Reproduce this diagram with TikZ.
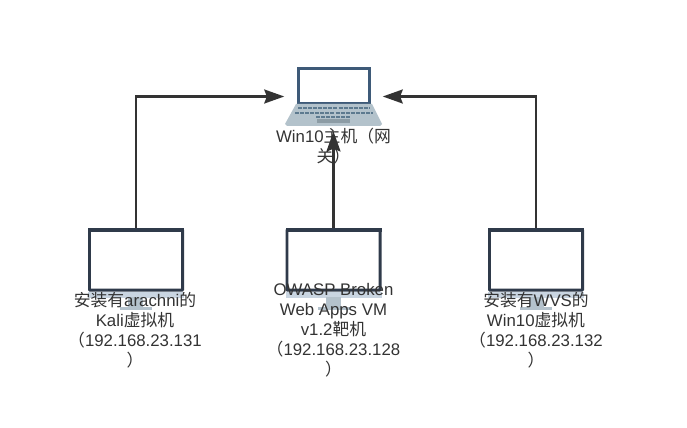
\documentclass[tikz,border=0pt]{standalone}
\usepackage{fontspec}
\setmainfont{Liberation Sans}
\newfontfamily\cjkfont{Noto Sans CJK SC}
\newcommand{\zh}[1]{{\cjkfont #1}}
\usetikzlibrary{arrows.meta}
\definecolor{linegray}{HTML}{333333}
\definecolor{framedark}{HTML}{2F3A4A}
\definecolor{chinlight}{HTML}{C9D5E1}
\definecolor{standgray}{HTML}{B4C2CC}
\definecolor{lidblue}{HTML}{3E5A78}
\definecolor{basegray}{HTML}{B3C2CB}
\definecolor{keyblue}{HTML}{5D7A8F}
\definecolor{padgray}{HTML}{8C9CA5}
\tikzset{
  screenbox/.style={draw=framedark,line width=2.2pt,fill=white,minimum width=69.8pt,minimum height=45.3pt,inner sep=0pt,rounded corners=0.5pt},
  hostbox/.style={minimum width=73.5pt,minimum height=46pt,inner sep=0pt},
  link/.style={draw=linegray,line width=1.7pt,-{Stealth[length=15pt,width=10.5pt,inset=2pt]}},
  caption/.style={text=linegray,font=\fontsize{12.6}{15}\selectfont,align=center,inner sep=0pt}
}
\begin{document}
\begin{tikzpicture}[x=0.75pt,y=-0.75pt]
    \useasboundingbox (0,0) rectangle (687,428);

    % screens
    \node (K) at (136,260) [screenbox]{};
    \node (M) at (333.5,260) [screenbox]{};
    \node (W) at (536,260) [screenbox]{};
    \node (H) at (333.5,96.5) [hostbox]{};

    \draw [link] (K.north) |- (H.west);
    \draw [link] (W.north) |- (H.east);
    \draw [link,shorten >=3pt] (M.north) -- (H.south);

    % laptop
    \draw [draw=lidblue,line width=2pt,fill=white] (298.5,68.5) rectangle (369.5,103);
    \fill [lidblue] (297,67) rectangle (371,70);
    \fill [basegray] (296,104) -- (372,104) -- (382,124) -- (380,126) -- (287,126) -- (285,124) -- cycle;
    \draw [keyblue,line width=1.6pt,dash pattern=on 3pt off 0.8pt] (298,108) -- (370,108);
    \draw [keyblue,line width=1.6pt,dash pattern=on 3pt off 0.8pt] (295,113) -- (373,113);
    \draw [keyblue,line width=1.6pt,dash pattern=on 3pt off 0.8pt] (316,117) -- (351,117);
    \fill [padgray] (317,119) rectangle (350,123);

    % kali monitor
    \fill [framedark] (K.north west) rectangle ([yshift=-3pt]K.north east);
    \fill [chinlight] (K.south west) rectangle ([yshift=-4.5pt]K.south east);
    \fill [standgray] (128,297) rectangle (143,307);
    \fill [standgray] (120,307) rectangle (152,310);

    % target monitor
    \fill [framedark] (M.north west) rectangle ([yshift=-3pt]M.north east);
    \fill [chinlight] (M.south west) rectangle ([yshift=-4.5pt]M.south east);
    \fill [standgray] (326,297) rectangle (341,307);
    \fill [standgray] (318,307) rectangle (350,310);

    % wvs monitor
    \fill [framedark] (W.north west) rectangle ([yshift=-3pt]W.north east);
    \fill [chinlight] (W.south west) rectangle ([yshift=-4.5pt]W.south east);
    \fill [standgray] (529,297) rectangle (544,307);
    \fill [standgray] (520,307) rectangle (552,310);

    \node (Hl) at (333.5,146) [caption]{Win10\zh{主机（网}\\\zh{关）}};
    \node (Kl) at (135,330) [caption]{\zh{安装有}arachni\zh{的}\\Kali\zh{虚拟机}\\\zh{（}192.168.23.131\\\zh{）}};
    \node (Ml) at (333.5,330) [caption]{OWASP Broken\\Web Apps VM\\v1.2\zh{靶机}\\\zh{（}192.168.23.128\\\zh{）}};
    \node (Wl) at (536,330) [caption]{\zh{安装有}WVS\zh{的}\\Win10\zh{虚拟机}\\\zh{（}192.168.23.132\\\zh{）}};
\end{tikzpicture}
\end{document}
